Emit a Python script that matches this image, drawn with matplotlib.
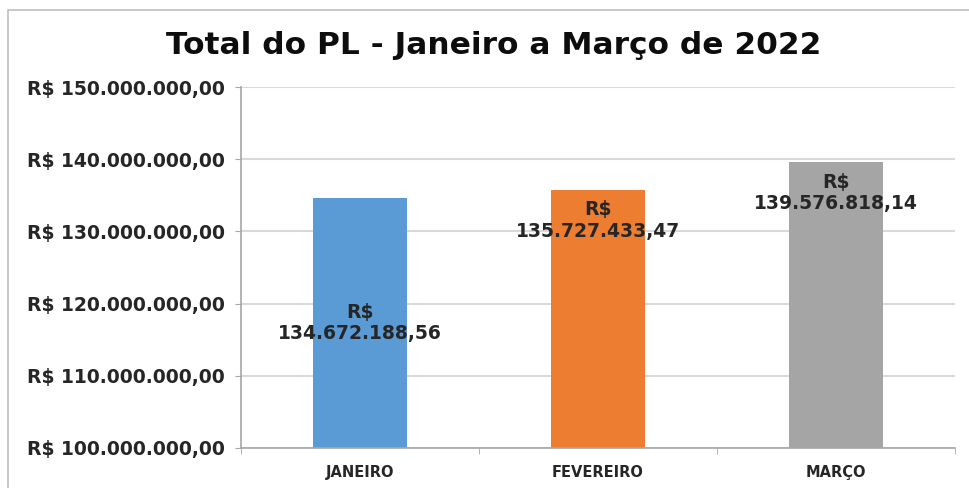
import matplotlib.pyplot as plt
from matplotlib.patches import Rectangle

meses = ["JANEIRO", "FEVEREIRO", "MARÇO"]
valores = [134672188.56, 135727433.47, 139576818.14]
rotulos = ["R$\n134.672.188,56", "R$\n135.727.433,47", "R$\n139.576.818,14"]
ticks_y = [100e6, 110e6, 120e6, 130e6, 140e6, 150e6]
ticks_txt = ["R$ 100.000.000,00", "R$ 110.000.000,00", "R$ 120.000.000,00",
             "R$ 130.000.000,00", "R$ 140.000.000,00", "R$ 150.000.000,00"]
cores = ["#5B9BD5", "#ED7D31", "#A5A5A5"]
# where Excel put each data label: centre of bar or inside end
posicao = ["centro", "topo", "topo"]

plt.rcParams['font.family'] = ['DejaVu Sans']

fig = plt.figure(figsize=(9.69, 4.88), dpi=100)
fig.patches.append(Rectangle((8/969, -0.1), 1.1, 1 - 10/488 + 0.1, transform=fig.transFigure,
                             fill=False, edgecolor="#BFBFBF", lw=1.2))
ax = fig.add_axes([241/969, 1 - 448/488, 714/969, 361/488])

x = range(len(meses))
ax.bar(x, valores, width=0.395, color=cores, zorder=2)
ax.set_xlim(-0.5, 2.5)
ax.set_ylim(100e6, 150e6)
ax.set_yticks(ticks_y)
ax.set_yticklabels(ticks_txt, fontsize=13.5, fontweight='bold', color='#262626')
ax.set_xticks(list(x))
ax.set_xticklabels(meses, fontsize=10.5, fontweight='bold', color='#262626')
ax.tick_params(axis='x', length=0, pad=12)
ax.tick_params(axis='y', length=4, color='#A6A6A6', pad=7.5)
ax.set_xticks([-0.5, 0.5, 1.5, 2.5], minor=True)
ax.tick_params(axis='x', which='minor', length=4, color='#A6A6A6')
ax.grid(axis='y', color='#D9D9D9', lw=1.5, zorder=0)
for s in ['top', 'right']:
    ax.spines[s].set_visible(False)
for s in ['left', 'bottom']:
    ax.spines[s].set_color('#A6A6A6')
    ax.spines[s].set_linewidth(1.2)

for i, v in enumerate(valores):
    if posicao[i] == "centro":
        ax.text(i, (100e6 + v) / 2, rotulos[i], ha='center', va='center',
                fontsize=13.5, fontweight='bold', color='#262626', linespacing=1.15, zorder=3)
    else:
        ax.annotate(rotulos[i], (i, v), xytext=(0, -22), textcoords='offset points',
                    ha='center', va='center', fontsize=13.5, fontweight='bold',
                    color='#262626', linespacing=1.15, zorder=3)

fig.text(494/969, 1 - 46/488, "Total do PL - Janeiro a Março de 2022", ha='center', va='center',
         fontsize=22.5, fontweight='bold', color='#0D0D0D')

fig.savefig("out.png", dpi=100)
